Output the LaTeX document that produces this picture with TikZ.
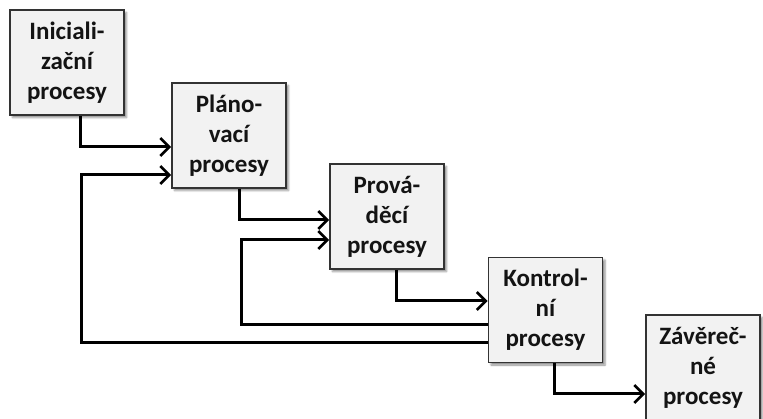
\documentclass[tikz,border=0pt]{standalone}
\usepackage{fontspec}
\setmainfont{Carlito}
\usetikzlibrary{arrows.meta,shadows.blur}

\definecolor{boxfill}{HTML}{F2F2F2}
\definecolor{boxline}{HTML}{333333}
\definecolor{txt}{HTML}{141414}

\tikzset{
  procbox/.style={
    draw=boxline, line width=1.8pt, fill=boxfill,
    minimum width=114pt, minimum height=105pt, inner sep=0pt,
    text width=112pt, align=center, text=txt,
    font=\fontsize{25}{30}\selectfont\bfseries,
    blur shadow={shadow xshift=2.5pt, shadow yshift=-2.5pt,
                 shadow blur steps=4, shadow opacity=45}
  },
  flow/.style={
    line width=3pt, black,
    -{Straight Barb[length=9pt,width=18pt,line width=2.6pt]}
  }
}

\begin{document}
\begin{tikzpicture}[x=1pt,y=-1pt]
  \useasboundingbox (0,0) rectangle (763,419);

  % process groups
  \node[procbox] (b1) at (67,62.5)    {Iniciali-\\zační\\procesy};
  \node[procbox] (b2) at (229,135.5)  {Pláno-\\vací\\procesy};
  \node[procbox] (b3) at (387,216.5)  {Prová-\\děcí\\procesy};
  \node[procbox] (b4) at (545.5,310)  {Kontrol-\\ní\\procesy};
  \node[procbox] (b5) at (703,367.5)  {Závěreč-\\né\\procesy};

  % forward flow
  \draw[flow] (b1.south -| 80,0)  |- (b2.west |- 0,147);
  \draw[flow] (b2.south -| 239,0) |- (b3.west |- 0,220);
  \draw[flow] (b3.south -| 396,0) |- (b4.west |- 0,301);
  \draw[flow] (b4.south -| 554,0) |- (b5.west |- 0,394);

  % feedback from control
  \draw[flow] (b4.west |- 0,343) -| (81,175)  -- (b2.west |- 0,175);
  \draw[flow] (b4.west |- 0,325) -| (241,240) -- (b3.west |- 0,240);
\end{tikzpicture}
\end{document}
